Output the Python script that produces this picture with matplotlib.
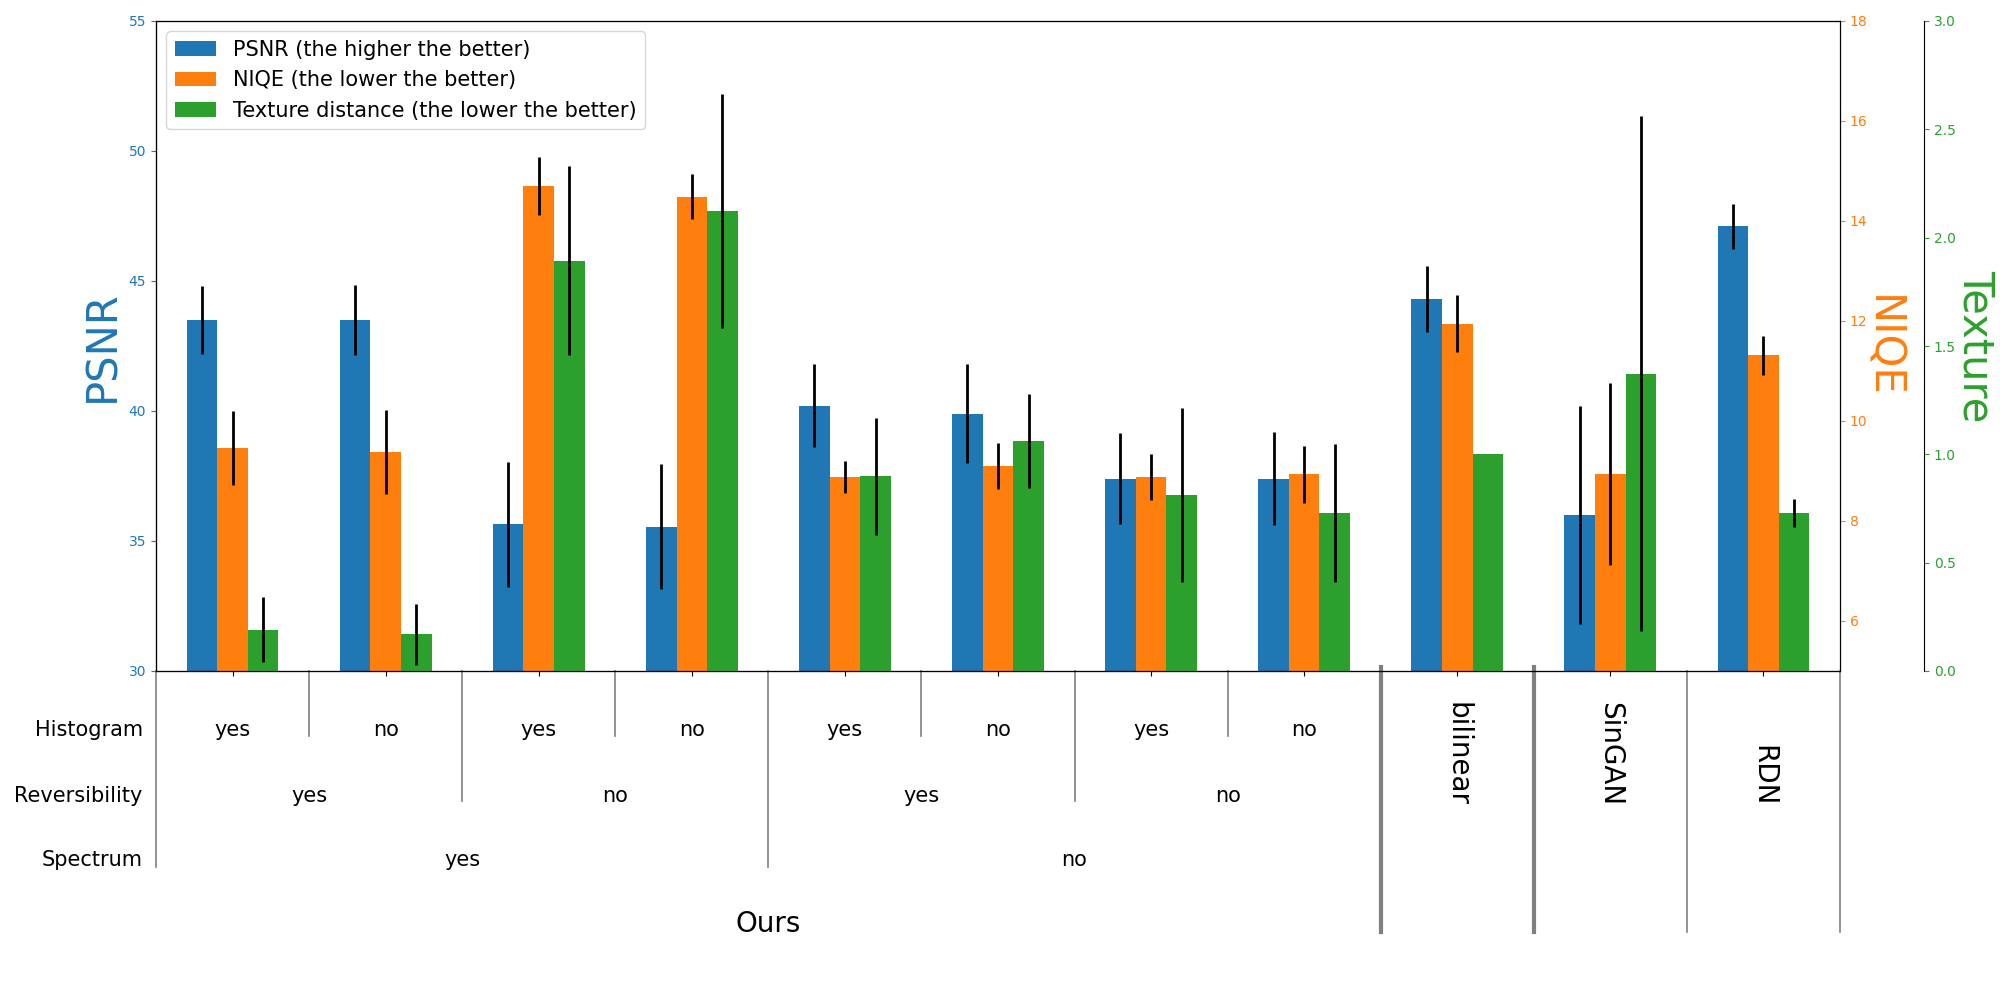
import numpy as np
import matplotlib
matplotlib.use("Agg")
import matplotlib.pyplot as plt
from matplotlib.transforms import blended_transform_factory

# values, one entry per group
psnr = [43.5, 43.5, 35.65, 35.55, 40.2, 39.9, 37.4, 37.4, 44.3, 36.0, 47.1]
psnr_err = [1.3, 1.35, 2.4, 2.4, 1.6, 1.9, 1.75, 1.8, 1.27, 4.2, 0.87]
niqe = [9.46, 9.38, 14.7, 14.49, 8.88, 9.1, 8.88, 8.94, 11.95, 8.94, 11.32]
niqe_err = [0.73, 0.84, 0.58, 0.45, 0.32, 0.46, 0.46, 0.57, 0.57, 1.82, 0.39]
texture = [0.19, 0.17, 1.894, 2.124, 0.9, 1.062, 0.812, 0.729, 1.0, 1.373, 0.73]
texture_err = [0.15, 0.14, 0.435, 0.54, 0.27, 0.216, 0.4, 0.32, 0.0, 1.19, 0.066]

histogram = ["yes", "no", "yes", "no", "yes", "no", "yes", "no"]
reversibility = ["yes", "no", "yes", "no"]
spectrum = ["yes", "no"]
others = ["bilinear", "SinGAN", "RDN"]

x = np.arange(len(psnr))
width = 0.2

fig = plt.figure(figsize=(20, 10), dpi=100)
ax1 = fig.add_subplot(111)
fig.subplots_adjust(left=0.078, right=0.92, top=0.979, bottom=0.329)
ax2 = ax1.twinx()
ax3 = ax1.twinx()
ax3.spines["right"].set_position(("axes", 1.05))

b1 = ax1.bar(x - width, psnr, width, yerr=psnr_err, color="tab:blue",
             error_kw=dict(ecolor="black", elinewidth=2, capsize=0))
b2 = ax2.bar(x, niqe, width, yerr=niqe_err, color="tab:orange",
             error_kw=dict(ecolor="black", elinewidth=2, capsize=0))
b3 = ax3.bar(x + width, texture, width, yerr=texture_err, color="tab:green",
             error_kw=dict(ecolor="black", elinewidth=2, capsize=0))

ax1.set_xlim(-0.5, len(psnr) - 0.5)
ax1.set_ylim(30, 55)
ax2.set_ylim(5, 18)
ax3.set_ylim(0, 3)
ax1.set_xticks(x)
ax1.set_xticklabels([""] * len(x))

ax1.set_ylabel("PSNR", fontsize=30, color="tab:blue")
ax2.set_ylabel("NIQE", fontsize=30, color="tab:orange", rotation=270, labelpad=26)
ax3.set_ylabel("Texture", fontsize=30, color="tab:green", rotation=270, labelpad=29)
ax1.tick_params(axis="y", colors="tab:blue")
ax2.tick_params(axis="y", colors="tab:orange")
ax3.tick_params(axis="y", colors="tab:green")

ax3.legend([b1, b2, b3], ["PSNR (the higher the better)",
                          "NIQE (the lower the better)",
                          "Texture distance (the lower the better)"],
           loc="upper left", fontsize=15)

# table under the axis
trans = blended_transform_factory(ax1.transData, fig.transFigure)
y_axis = 0.329
y_hist, y_rev, y_spec, y_ours = 0.2695, 0.2045, 0.1395, 0.0765
end_hist, end_rev, end_spec, end_all = 0.264, 0.199, 0.133, 0.068

fig.text(0.0714, y_hist, "Histogram", ha="right", va="center", fontsize=15)
fig.text(0.0714, y_rev, "Reversibility", ha="right", va="center", fontsize=15)
fig.text(0.0714, y_spec, "Spectrum", ha="right", va="center", fontsize=15)

for i, lab in enumerate(histogram):
    ax1.text(i, y_hist, lab, transform=trans, ha="center", va="center", fontsize=15)
for i, lab in enumerate(reversibility):
    ax1.text(2 * i + 0.5, y_rev, lab, transform=trans, ha="center", va="center", fontsize=15)
for i, lab in enumerate(spectrum):
    ax1.text(4 * i + 1.5, y_spec, lab, transform=trans, ha="center", va="center", fontsize=15)
ax1.text(3.5, y_ours, "Ours", transform=trans, ha="center", va="center", fontsize=20)

for i, lab in enumerate(others):
    ax1.text(8 + i, 0.194, lab, transform=trans, ha="center", va="bottom",
             rotation=270, fontsize=20)

for xs in [0.5, 2.5, 4.5, 6.5]:
    ax1.plot([xs, xs], [y_axis, end_hist], transform=trans, color="gray", lw=1.2, clip_on=False)
for xs in [1.5, 5.5]:
    ax1.plot([xs, xs], [y_axis, end_rev], transform=trans, color="gray", lw=1.2, clip_on=False)
for xs in [-0.5, 3.5]:
    ax1.plot([xs, xs], [y_axis, end_spec], transform=trans, color="gray", lw=1.2, clip_on=False)
for xs in [7.5, 8.5]:
    ax1.plot([xs, xs], [y_axis + 0.004, end_all], transform=trans, color="gray", lw=3, clip_on=False)
for xs in [9.5, 10.5]:
    ax1.plot([xs, xs], [y_axis, end_all], transform=trans, color="gray", lw=1.2, clip_on=False)

fig.savefig("out.png", dpi=100)
